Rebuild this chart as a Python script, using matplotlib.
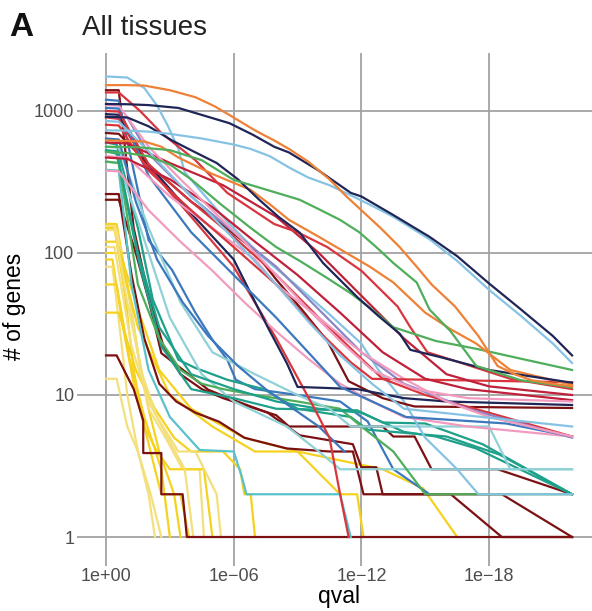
import matplotlib
matplotlib.use("Agg")
import matplotlib.pyplot as plt

plt.rcParams['font.family'] = ['Liberation Sans', 'DejaVu Sans']

# x values are -log10(qval), y values are number of genes passing that cutoff
ORANGE = "#EE8136"
NAVY = "#1F2556"
LBLUE = "#86C3E3"
GREEN = "#4FAE5B"
RED = "#D9353F"
CRIMSON = "#C0203A"
MAROON = "#7B1113"
TEAL = "#1FA08A"
BLUE = "#3C78BD"
PINK = "#F29BBE"
CYAN = "#58C2CC"
YELLOW = "#F4D21F"
PALEY = "#F3E07C"
SLATE = "#8A86C6"
LTEAL = "#8FD1D6"

# tissues with few hits: drop to a single gene early
yellow_x = [
    [0, 0.5, 1.0, 1.5, 2.0, 2.5, 3.2, 3.5],
    [0, 0.4, 0.9, 1.3, 1.8, 2.3, 2.6, 3.5, 3.9],
    [0, 0.5, 1.2, 1.6, 2.0, 2.8, 3.6, 4.4, 4.6],
    [0, 0.3, 0.8, 1.3, 1.8, 2.4, 3.0, 4.6, 5.0],
    [0, 0.3, 0.7, 1.0, 1.5, 2.0, 2.3],
    [0, 0.6, 1.4, 2.3, 3.2, 4.0, 5.5, 6.3, 6.5, 6.8, 7.0],
    [0, 0.5, 1.0, 1.5, 2.1, 2.6],
    [0, 0.6, 1.5, 3.0, 5.0, 7.0, 9.0, 11.0, 11.8, 12.1],
    [0, 0.5, 1.5, 2.5, 4.0, 6.5, 9.0, 13.0, 14.9, 16.5],
    [0, 0.4, 1.0, 1.7, 2.4, 3.4, 4.2, 5.2, 5.4],
    [0, 0.5, 1.1, 1.8, 2.6, 3.0],
    [0, 0.4, 1.2, 2.0, 2.9, 3.7, 4.1],
]
yellow_y = [
    [160, 160, 60, 20, 8, 4, 2, 1],
    [150, 150, 50, 15, 6, 3, 2, 2, 1],
    [145, 145, 40, 15, 8, 5, 3, 3, 1],
    [90, 90, 30, 12, 6, 4, 3, 3, 1],
    [80, 80, 25, 10, 4, 2, 1],
    [38, 38, 15, 8, 5, 4, 4, 3, 2, 2, 1],
    [13, 13, 6, 4, 2, 1],
    [100, 100, 30, 10, 6, 4, 4, 2, 2, 1],
    [120, 120, 40, 15, 8, 5, 4, 3, 2.2, 1],
    [155, 155, 45, 14, 7, 4, 4, 2, 1],
    [60, 60, 18, 7, 3, 1],
    [110, 110, 22, 9, 5, 3, 1],
]
yellow_colors = [YELLOW, YELLOW, PALEY, YELLOW, PALEY, YELLOW,
                 PALEY, YELLOW, YELLOW, PALEY, YELLOW, PALEY]

# curves that fall fast and end in stairs at low counts
steep_x = [
    [0, 0.5, 1.3, 1.75, 1.75, 2.6, 2.6, 3.6, 3.8, 21.9],
    [0, 0.6, 1.4, 2.0, 2.6, 3.8, 4.8, 6.0, 7.6, 9.1, 11.6, 12.0, 12.7, 13.0, 18.6, 21.9],
    [0, 0.6, 1.3, 2.0, 2.7, 3.5, 4.5, 5.5, 6.5, 8.0, 8.6, 13.0, 13.5, 14.5, 15.3, 18.4, 21.9],
    [0, 0.6, 1.2, 1.8, 2.5, 3.3, 4.2, 5.3, 6.5, 8.5, 10.5, 11.6, 12.1, 16.2, 18.6, 21.9],
    [0, 0.6, 2.0, 3.1, 4.2, 5.0, 5.7, 6.1, 7.0, 9.0, 11.0, 12.3, 13.5, 15.2],
    [0, 0.6, 1.2, 2.0, 3.0, 4.4, 6.0, 6.4, 6.6, 11.0, 11.5],
    [0, 0.5, 1.5, 2.2, 3.4, 4.2, 5.7, 7.4, 9.0, 11.5, 12.3, 16.0, 18.5, 21.9],
    [0, 0.6, 2.0, 3.0, 4.5, 6.0, 8.5, 10.0, 11.0, 21.9],
    [0, 0.5, 1.6, 2.6, 4.0, 6.0, 8.0, 11.8, 13.0, 15.0, 17.7, 21.9],
    [0, 0.6, 1.5, 2.5, 3.5, 4.5, 5.5, 7.0, 9.0, 11.0, 12.0, 13.5, 15.0, 21.9],
    [0, 0.5, 1.5, 2.5, 4.0, 6.0, 8.0, 10.0, 12.0, 14.0, 15.5, 17.4, 21.9],
    [0, 0.6, 2.0, 3.5, 5.0, 7.0, 9.0, 10.5, 11.5, 14.1, 18.0, 19.0, 21.9],
    [0, 0.6, 1.4, 2.4, 3.6, 4.8, 6.2, 7.5, 8.8, 10.0, 11.2],
]
steep_y = [
    [19, 19, 11, 6.6, 3.9, 3.9, 2, 2, 1, 1],
    [237, 237, 100, 47, 19.7, 14.3, 10.9, 9.2, 7.5, 5.2, 4.5, 3.1, 3.1, 2, 2, 1],
    [1400, 1400, 150, 50, 22, 14, 11, 9.5, 8.5, 7.2, 6, 6, 5.1, 5.1, 3.0, 3.0, 2],
    [260, 260, 70, 25, 12, 9, 7.5, 6.5, 5, 4.2, 4, 4, 2, 2, 1, 1],
    [1200, 1180, 123, 76, 38, 24.5, 17.7, 12.8, 11, 10, 9, 6.5, 3, 2],
    [385, 380, 60, 15, 7, 4.1, 4.0, 2.6, 2, 2, 1],
    [600, 580, 150, 47, 17.7, 15.5, 12.8, 11, 8, 7, 5.7, 5.1, 3.8, 2],
    [440, 430, 100, 35, 14, 9, 6, 4, 3, 3],
    [520, 500, 80, 22, 11, 9.5, 8, 7.8, 6.4, 6.3, 4.5, 2],
    [440, 430, 60, 25, 15, 12, 11, 10, 9, 8, 6, 4, 2, 2],
    [530, 520, 100, 30, 14, 11, 9, 8, 7.5, 5.5, 5.1, 4.2, 2],
    [560, 550, 150, 45, 20, 14, 10, 8, 6, 6, 6, 3, 3],
    [640, 630, 230, 90, 45, 26, 16, 11, 8, 6, 4],
]
steep_colors = [MAROON, MAROON, MAROON, MAROON, BLUE, CYAN,
                TEAL, LTEAL, TEAL, GREEN, TEAL, LTEAL, BLUE]

# curves that keep many genes down to the strictest cutoff
tail_x = [
    [0, 1, 1.8, 2.4, 2.9, 3.4, 3.7, 4.3, 5.8, 7.3, 8.9, 10.5, 12, 12.8, 14, 15, 16.5, 17.5, 21.9],
    [0, 0.6, 2.0, 4.0, 6.0, 8.0, 9.8, 10.5, 11.0, 11.4],
    [0, 0.6, 2, 3.5, 5, 6.5, 8, 9.5, 11, 12.5, 14, 17, 21.9],
    [0, 0.6, 2, 4, 5.2, 6.8, 8, 9.2, 10.4, 11.4, 13, 14.5, 21.9],
    [0, 0.6, 2, 4, 6, 7.6, 8.5, 9, 11.8, 14, 16, 21.9],
    [0, 0.6, 2, 4, 6, 8, 9.5, 11, 14.1, 18.8, 21.9],
    [0, 0.6, 2, 4, 6, 8, 10, 12, 13, 15, 18, 21.9],
    [0, 1, 2, 4, 6, 8, 10, 12, 14, 17, 21.9],
    [0, 1, 3, 5, 7, 8, 10, 12, 14, 16, 18, 21.9],
    [0, 0.6, 2, 4, 6, 8, 10, 11.5, 12.5, 21.9],
    [0, 1, 3, 5, 7, 9, 11, 13, 15, 17, 21.9],
    [0, 1, 3, 5.5, 8, 10, 12, 14, 16, 18, 21.9],
    [0, 0.6, 2, 3.5, 5, 6.5, 8, 9.5, 11, 12.5, 14, 21.9],
    [0, 0.6, 2, 3.5, 5, 6.5, 8, 9.5, 11, 12.5, 14.5, 17, 21.9],
    [0, 0.6, 1.6, 2.6, 4.2, 5.7, 7.9, 9.0, 10.4, 12, 13.7, 14.3, 15.1, 16.6, 19, 21.9],
    [0, 1, 2, 3, 4, 5.4, 6.8, 8, 9.1, 10.3, 11.5, 12.5, 13.5, 15.5, 17.5, 19.5, 21.9],
    [0, 1.8, 2.6, 3.4, 5, 6.8, 7.7, 8.6, 10, 11.3, 12.4, 13.5, 15, 16.2, 17.4, 19, 21.9],
    [0, 1, 2, 3.1, 4.1, 5.2, 6.2, 7.2, 8.1, 9.1, 10.2, 11.8, 12.8, 13.8, 14.3, 15.7, 18, 21.9],
    [0, 1.5, 3, 4.5, 6, 7.5, 9.1, 10.1, 11, 11.9, 12.7, 13.5, 14.6, 15.2, 16.2, 17.4, 19.5, 21.9],
    [0, 1, 2, 3, 4.5, 6, 6.8, 7.7, 8.6, 9.5, 10.5, 11.5, 12.5, 13.5, 15.2, 16.5, 18, 19.5, 21, 21.9],
    [0, 1, 2, 3.4, 4.9, 5.8, 6.9, 7.9, 8.6, 10, 11.5, 12, 13.5, 15.2, 16.5, 18, 19.5, 21, 21.9],
    [0, 1, 1.8, 3, 4.2, 5.1, 6.1, 7, 7.9, 8.6, 9.5, 10.5, 11.3, 12, 12.9, 13.8, 14.6,
     15.3, 16.4, 17.5, 18.4, 19.2, 20, 21, 21.9],
]
tail_y = [
    [1750, 1720, 1450, 1090, 790, 540, 370, 290, 160, 95, 60, 37, 23, 15, 9, 5, 3, 2, 2],
    [900, 880, 400, 180, 80, 25, 8, 5, 2, 1],
    [380, 375, 200, 120, 75, 45, 28, 18, 12, 9, 7, 6, 5.1],
    [700, 690, 420, 230, 170, 110, 65, 40, 24, 12.5, 9.5, 8.3, 8.1],
    [950, 940, 420, 190, 90, 30, 16.7, 11.4, 11, 9.5, 9, 8.5],
    [1050, 1040, 350, 140, 70, 35, 20, 11.4, 7, 6.3, 5.1],
    [1000, 990, 420, 230, 130, 70, 35, 18, 13, 10, 7.5, 5.1],
    [910, 900, 500, 250, 140, 80, 40, 20, 12, 8, 5],
    [480, 470, 250, 150, 90, 60, 35, 20, 13, 9, 7, 5.1],
    [800, 790, 380, 200, 110, 60, 28, 17, 13, 12.3],
    [470, 460, 330, 210, 120, 70, 38, 20, 13, 11, 9.2],
    [600, 590, 430, 300, 180, 100, 50, 25, 14, 11.5, 10],
    [850, 840, 520, 300, 180, 105, 60, 33, 19, 12, 8, 6],
    [1100, 1090, 560, 330, 200, 120, 70, 40, 24, 15, 11, 9.5, 9],
    [1350, 1350, 1000, 700, 450, 265, 160, 140, 110, 75, 42, 30, 20, 17, 13, 11],
    [515, 505, 480, 420, 330, 220, 150, 110, 88, 68, 52, 40, 30, 24, 21, 18, 15],
    [620, 610, 560, 470, 360, 278, 220, 171, 130, 100, 80, 62, 38, 29, 23, 15, 11.8],
    [910, 900, 780, 620, 520, 430, 330, 237, 180, 139, 85, 49, 36, 27, 20.8, 18.5, 15, 12.2],
    [560, 555, 530, 450, 327, 280, 237, 200, 171, 140, 110, 85, 62, 40, 28, 16, 12.7, 11.3],
    [730, 728, 715, 690, 640, 580, 540, 480, 400, 340, 300, 255, 215, 180, 125, 88, 55, 36, 23, 16.8],
    [1120, 1115, 1100, 1050, 900, 820, 680, 560, 510, 380, 265, 250, 185, 130, 95, 61, 40, 26, 19],
    [1520, 1520, 1510, 1400, 1250, 1080, 880, 730, 620, 540, 440, 330, 250, 200, 150, 110, 80,
     60, 42, 26, 16, 14, 12.7, 12, 11.5],
]
tail_colors = [LBLUE, RED, PINK, MAROON, NAVY, BLUE, RED, SLATE, PINK,
               RED, CRIMSON, CRIMSON, LBLUE, PINK, RED, GREEN, ORANGE, NAVY, GREEN,
               LBLUE, NAVY, ORANGE]

qval_ticks = [0, 6, 12, 18]
qval_labels = ["1e+00", "1e\u221206", "1e\u221212", "1e\u221218"]
gene_ticks = [1, 10, 100, 1000]
gene_labels = ["1", "10", "100", "1000"]

fig = plt.figure(figsize=(5.92, 6.11), dpi=100)
ax = fig.add_axes([0.1397, 0.0835, 0.866, 0.8295])

for xs, ys, cs in [(yellow_x, yellow_y, yellow_colors),
                   (steep_x, steep_y, steep_colors),
                   (tail_x, tail_y, tail_colors)]:
    for x, y, c in zip(xs, ys, cs):
        ax.plot(x, y, color=c, lw=1.6, solid_joinstyle='round')

ax.set_yscale('log')
ax.set_xlim(-1.095, 22.995)
ax.set_ylim(0.689, 2553)
ax.set_xticks(qval_ticks)
ax.set_xticklabels(qval_labels)
ax.set_yticks(gene_ticks)
ax.set_yticklabels(gene_labels)
ax.minorticks_off()

for s in ax.spines.values():
    s.set_visible(False)
ax.grid(True, color="#A3A3A3", lw=1.3)
ax.set_axisbelow(True)
ax.tick_params(length=4, width=1.3, color="#A3A3A3", labelcolor="#4D4D4D",
               labelsize=13, pad=2)

ax.set_xlabel("qval", fontsize=16.5, labelpad=0)
ax.set_ylabel("# of genes", fontsize=16.5, labelpad=6)

fig.text(0.1385, 0.933, "All tissues", fontsize=20, va='bottom', ha='left', color="#222222")
fig.text(0.015, 0.93, "A", fontsize=24, fontweight='bold', va='bottom', ha='left', color="#111111")

fig.savefig("out.png", dpi=100)
